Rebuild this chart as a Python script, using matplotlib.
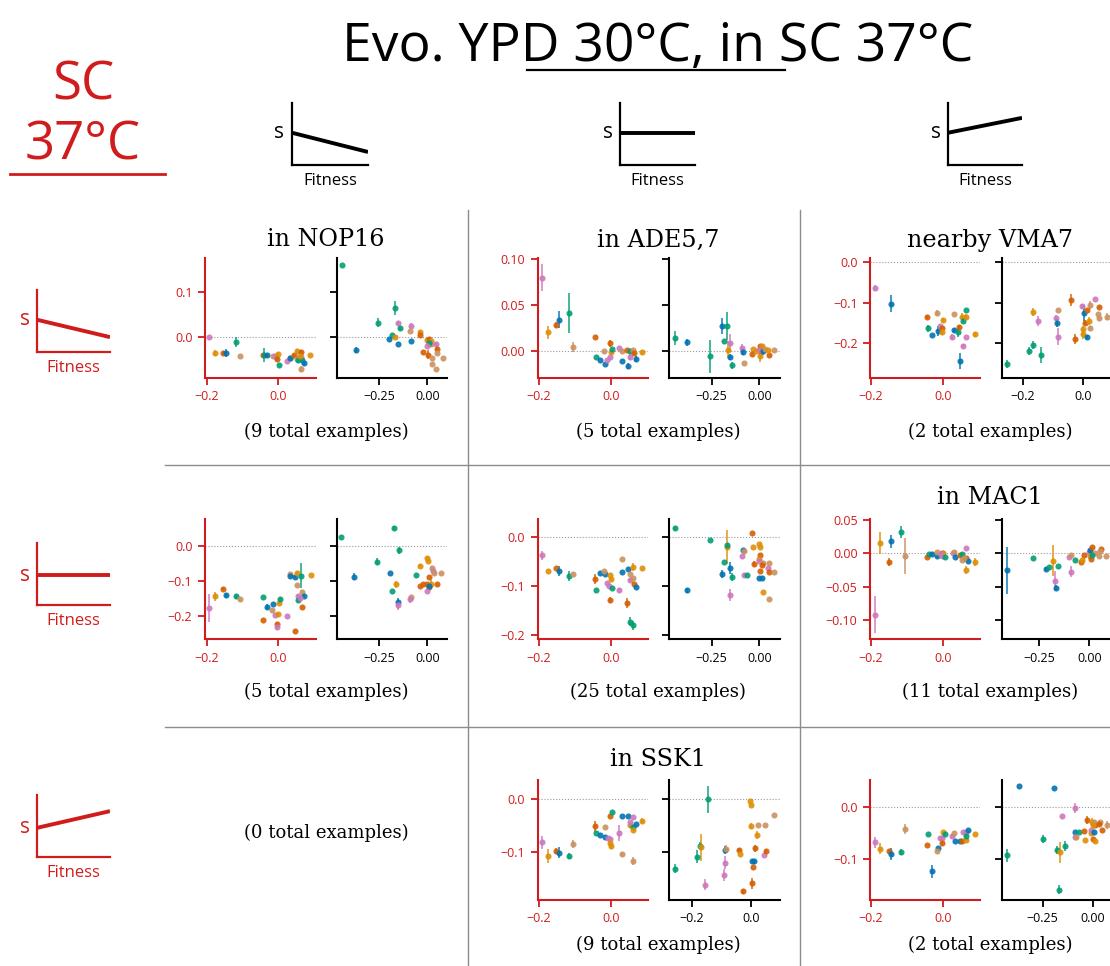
import matplotlib
matplotlib.use("Agg")
import matplotlib.pyplot as plt
from matplotlib.lines import Line2D

plt.rcParams['font.family'] = ['Open Sans', 'DejaVu Sans']

W, H = 1110, 966
RED = '#d01c1c'
palette = {'b': '#0173b2', 'o': '#de8f05', 'g': '#029e73',
           'r': '#d55e00', 'p': '#cc78bc', 't': '#ca9161'}

# ---- data: (x, y, err, group) per panel ----
c11_left = [
    (-0.193, 0.000, 0, 'p'), (-0.177, -0.035, 0.007, 'o'), (-0.154, -0.035, 0.004, 'r'), (-0.145, -0.036, 0.009, 'b'),
    (-0.119, -0.011, 0.011, 'g'), (-0.107, -0.042, 0, 't'), (-0.042, -0.039, 0.004, 'r'), (-0.040, -0.040, 0.016, 'g'),
    (-0.030, -0.041, 0.004, 'b'), (-0.014, -0.043, 0, 't'), (-0.008, -0.043, 0, 'p'), (-0.001, -0.038, 0.004, 'o'),
    (-0.003, -0.049, 0.004, 'r'), (0.003, -0.062, 0, 'g'), (0.025, -0.054, 0, 'p'), (0.033, -0.046, 0, 't'),
    (0.032, -0.046, 0, 'b'), (0.044, -0.041, 0.004, 'r'), (0.052, -0.031, 0.004, 'o'), (0.053, -0.048, 0, 't'),
    (0.065, -0.033, 0.004, 'r'), (0.063, -0.044, 0, 'p'), (0.055, -0.050, 0.007, 'g'), (0.065, -0.071, 0.006, 't'),
    (0.067, -0.052, 0.004, 'g'), (0.071, -0.058, 0.004, 'b'), (0.090, -0.041, 0, 'o'), (0.060, -0.042, 0, 'o'),
]
c11_right = [
    (-0.441, 0.159, 0, 'g'), (-0.372, -0.029, 0.006, 'b'), (-0.255, 0.031, 0.010, 'g'), (-0.169, 0.064, 0.015, 'g'),
    (-0.153, 0.031, 0.004, 'p'), (-0.143, 0.019, 0.004, 'g'), (-0.181, 0.005, 0, 'g'), (-0.197, -0.004, 0, 'b'),
    (-0.166, -0.001, 0, 'o'), (-0.152, -0.016, 0, 'b'), (-0.086, 0.025, 0.005, 'p'), (-0.091, 0.013, 0, 't'),
    (-0.084, -0.008, 0, 'b'), (-0.038, 0.010, 0.004, 'o'), (-0.040, 0.004, 0, 'r'), (-0.002, -0.006, 0, 'o'),
    (0.007, -0.004, 0.004, 'r'), (-0.024, -0.033, 0, 'r'), (0.002, -0.039, 0.010, 'r'), (0.021, -0.010, 0, 'o'),
    (0.019, -0.015, 0, 't'), (0.010, -0.013, 0.005, 'g'), (0.022, -0.047, 0, 't'), (0.022, -0.059, 0, 't'),
    (0.043, -0.016, 0.004, 'p'), (0.048, -0.026, 0.004, 'r'), (0.048, -0.035, 0, 't'), (0.045, -0.071, 0, 't'),
    (0.079, -0.046, 0, 't'), (-0.003, -0.021, 0, 'p'),
]
c12_left = [
    (-0.191, 0.080, 0.015, 'p'), (-0.175, 0.020, 0.007, 'o'), (-0.152, 0.028, 0.003, 'r'), (-0.144, 0.034, 0.009, 'b'),
    (-0.117, 0.041, 0.022, 'g'), (-0.105, 0.004, 0.005, 't'), (-0.045, 0.015, 0, 'r'), (-0.042, -0.007, 0, 'g'),
    (-0.030, -0.010, 0, 'b'), (-0.017, -0.015, 0, 'b'), (-0.020, 0.000, 0, 't'), (-0.004, 0.008, 0.004, 'r'),
    (-0.002, -0.002, 0.003, 'o'), (0.003, 0.002, 0, 'g'), (-0.011, -0.010, 0, 'p'), (-0.004, -0.007, 0, 'p'),
    (0.022, 0.003, 0, 'p'), (0.029, 0.000, 0, 't'), (0.029, -0.011, 0, 'b'), (0.045, -0.017, 0.003, 'b'),
    (0.043, 0.001, 0, 'r'), (0.051, -0.007, 0.003, 'p'), (0.052, 0.000, 0, 'g'), (0.061, 0.001, 0, 't'),
    (0.063, -0.003, 0.003, 'r'), (0.067, -0.009, 0.003, 'b'), (0.086, -0.002, 0.003, 'o'),
]
c12_right = [
    (-0.444, 0.014, 0.008, 'g'), (-0.378, 0.009, 0.004, 'b'), (-0.257, -0.006, 0.018, 'g'), (-0.198, 0.027, 0.009, 'b'),
    (-0.171, 0.027, 0.015, 'g'), (-0.184, 0.010, 0, 'g'), (-0.166, 0.001, 0.009, 'o'), (-0.152, 0.008, 0.010, 'p'),
    (-0.154, -0.007, 0.003, 'b'), (-0.142, -0.016, 0.004, 'g'), (-0.091, 0.003, 0.004, 'p'), (-0.087, -0.002, 0.003, 'b'),
    (-0.082, -0.014, 0, 't'), (-0.035, 0.002, 0, 'o'), (-0.038, -0.004, 0, 'r'), (-0.019, 0.000, 0, 'o'),
    (0.002, 0.005, 0, 'r'), (0.016, 0.005, 0, 'o'), (0.007, -0.001, 0, 'r'), (0.003, -0.006, 0.006, 'o'),
    (-0.003, 0.001, 0, 'p'), (0.017, 0.000, 0, 'b'), (0.031, 0.002, 0, 't'), (0.050, -0.005, 0, 'r'),
    (0.048, 0.001, 0, 'o'), (0.078, 0.001, 0, 't'),
]
c13_left = [
    (-0.190, -0.063, 0.007, 'p'), (-0.144, -0.102, 0.020, 'b'), (-0.045, -0.135, 0.004, 'r'), (-0.042, -0.163, 0.008, 'g'),
    (-0.032, -0.179, 0, 'b'), (-0.019, -0.125, 0.008, 't'), (-0.016, -0.169, 0.012, 'b'), (-0.009, -0.156, 0, 'p'),
    (-0.003, -0.161, 0.004, 'r'), (0.000, -0.142, 0.004, 'o'), (-0.003, -0.173, 0.006, 'o'), (0.030, -0.128, 0, 't'),
    (0.024, -0.183, 0.006, 'p'), (0.030, -0.168, 0.005, 'b'), (0.041, -0.173, 0.010, 'g'), (0.044, -0.160, 0.006, 'r'),
    (0.050, -0.134, 0.008, 'o'), (0.054, -0.144, 0.006, 'g'), (0.062, -0.117, 0, 'g'), (0.062, -0.135, 0.008, 'o'),
    (0.062, -0.184, 0, 'p'), (0.053, -0.206, 0.004, 'p'), (0.047, -0.244, 0.020, 'b'), (0.086, -0.178, 0.006, 'o'),
]
c13_right = [
    (-0.253, -0.251, 0.010, 'g'), (-0.180, -0.219, 0.010, 'g'), (-0.167, -0.204, 0.010, 'g'), (-0.140, -0.229, 0.020, 'g'),
    (-0.166, -0.123, 0.010, 'o'), (-0.150, -0.144, 0.012, 'p'), (-0.082, -0.117, 0, 't'), (-0.090, -0.138, 0.008, 'p'),
    (-0.084, -0.149, 0.010, 'b'), (-0.083, -0.183, 0.020, 'p'), (-0.038, -0.094, 0.015, 'r'), (-0.024, -0.189, 0.012, 'r'),
    (-0.003, -0.108, 0.004, 'p'), (0.004, -0.125, 0.020, 'b'), (0.000, -0.178, 0.010, 'o'), (0.002, -0.164, 0.006, 'o'),
    (0.009, -0.149, 0.006, 'r'), (0.014, -0.184, 0.004, 'b'), (0.016, -0.119, 0, 'r'), (0.022, -0.145, 0.010, 'o'),
    (0.026, -0.105, 0.010, 't'), (0.024, -0.162, 0.006, 't'), (0.042, -0.092, 0, 'p'), (0.053, -0.110, 0, 'r'),
    (0.051, -0.127, 0, 't'), (0.053, -0.138, 0.006, 't'), (0.080, -0.134, 0.008, 't'),
]
c21_left = [
    (-0.193, -0.177, 0.040, 'p'), (-0.177, -0.145, 0.012, 'o'), (-0.154, -0.123, 0.004, 'r'), (-0.145, -0.142, 0.008, 'b'),
    (-0.118, -0.145, 0.006, 'g'), (-0.107, -0.153, 0.004, 't'), (-0.042, -0.212, 0, 'r'), (-0.042, -0.147, 0, 'g'),
    (-0.030, -0.174, 0.008, 'b'), (-0.015, -0.167, 0, 'b'), (-0.016, -0.183, 0, 't'), (-0.008, -0.198, 0, 'p'),
    (-0.001, -0.196, 0.004, 'o'), (0.001, -0.164, 0.004, 'o'), (0.005, -0.153, 0.004, 'g'), (-0.003, -0.225, 0.004, 'r'),
    (-0.003, -0.232, 0.008, 'p'), (0.025, -0.202, 0, 'p'), (0.033, -0.081, 0.004, 't'), (0.032, -0.086, 0, 'b'),
    (0.047, -0.088, 0.004, 'b'), (0.053, -0.077, 0.004, 'o'), (0.052, -0.113, 0, 't'), (0.055, -0.144, 0.004, 'p'),
    (0.056, -0.156, 0.004, 'g'), (0.065, -0.085, 0.037, 'g'), (0.047, -0.245, 0, 'r'), (0.066, -0.131, 0.004, 't'),
    (0.066, -0.176, 0, 'r'), (0.071, -0.144, 0.004, 'b'), (0.062, -0.150, 0, 'p'), (0.091, -0.083, 0, 'o'),
]
c21_right = [
    (-0.448, 0.026, 0, 'g'), (-0.378, -0.089, 0.010, 'b'), (-0.259, -0.045, 0.010, 'g'), (-0.171, 0.051, 0.005, 'g'),
    (-0.145, -0.012, 0.010, 'g'), (-0.196, -0.078, 0, 'b'), (-0.182, -0.128, 0, 'g'), (-0.164, -0.110, 0.010, 'o'),
    (-0.150, -0.161, 0.012, 'b'), (-0.152, -0.169, 0.015, 'p'), (-0.087, -0.147, 0, 't'), (-0.089, -0.153, 0.010, 'p'),
    (-0.037, -0.057, 0.005, 'o'), (-0.059, -0.083, 0, 'g'), (0.000, -0.035, 0.004, 'o'), (0.002, -0.042, 0.004, 'o'),
    (0.007, -0.089, 0, 'r'), (0.023, -0.064, 0.005, 't'), (-0.038, -0.115, 0, 'r'), (-0.024, -0.109, 0, 'r'),
    (0.010, -0.119, 0, 'r'), (-0.003, -0.109, 0, 'r'), (0.016, -0.109, 0.010, 'o'), (-0.002, -0.128, 0, 'p'),
    (0.007, -0.115, 0, 'b'), (0.029, -0.072, 0, 'p'), (0.035, -0.078, 0, 't'), (0.070, -0.078, 0, 't'),
    (0.051, -0.109, 0, 'r'),
]
c22_left = [
    (-0.191, -0.038, 0.010, 'p'), (-0.175, -0.070, 0, 'o'), (-0.152, -0.064, 0, 'r'), (-0.144, -0.070, 0.010, 'b'),
    (-0.117, -0.080, 0.010, 'g'), (-0.105, -0.076, 0, 't'), (-0.045, -0.086, 0.010, 'r'), (-0.042, -0.109, 0, 'g'),
    (-0.030, -0.074, 0, 'b'), (-0.017, -0.076, 0, 'b'), (-0.020, -0.070, 0, 't'), (-0.011, -0.093, 0, 'p'),
    (-0.006, -0.099, 0, 'p'), (-0.004, -0.077, 0, 'o'), (-0.001, -0.086, 0.004, 'o'), (0.003, -0.105, 0, 'g'),
    (-0.004, -0.128, 0.006, 'r'), (0.022, -0.108, 0.004, 'p'), (0.029, -0.046, 0, 't'), (0.029, -0.072, 0, 'b'),
    (0.043, -0.135, 0.010, 'r'), (0.045, -0.066, 0, 'b'), (0.051, -0.075, 0, 't'), (0.051, -0.088, 0.004, 'p'),
    (0.052, -0.172, 0.010, 'g'), (0.061, -0.180, 0.010, 'g'), (0.061, -0.061, 0.008, 'o'), (0.063, -0.096, 0, 'r'),
    (0.061, -0.084, 0, 't'), (0.067, -0.101, 0, 'b'), (0.086, -0.063, 0, 'o'),
]
c22_right = [
    (-0.444, 0.017, 0.004, 'g'), (-0.378, -0.109, 0.006, 'b'), (-0.257, -0.007, 0, 'g'), (-0.168, -0.021, 0.035, 'o'),
    (-0.170, -0.016, 0, 'g'), (-0.184, -0.051, 0, 'g'), (-0.198, -0.076, 0.008, 'b'), (-0.154, -0.064, 0.012, 'b'),
    (-0.142, -0.081, 0.008, 'g'), (-0.154, -0.119, 0.012, 'p'), (-0.091, -0.040, 0, 'p'), (-0.087, -0.026, 0, 'b'),
    (-0.082, -0.028, 0, 't'), (-0.082, -0.077, 0.004, 'p'), (-0.063, -0.078, 0, 'g'), (-0.038, 0.007, 0, 'r'),
    (-0.035, -0.020, 0, 'o'), (-0.026, -0.055, 0.005, 'r'), (-0.003, -0.014, 0, 'o'), (0.002, -0.021, 0, 'o'),
    (0.005, -0.038, 0, 'r'), (-0.003, -0.045, 0, 'o'), (-0.002, -0.049, 0, 'p'), (0.003, -0.070, 0, 'r'),
    (0.000, -0.084, 0, 'b'), (0.014, -0.084, 0, 'b'), (0.017, -0.053, 0, 't'), (0.014, -0.058, 0, 'r'),
    (0.021, -0.112, 0, 'o'), (0.049, -0.053, 0, 't'), (0.044, -0.064, 0, 'p'), (0.051, -0.071, 0, 'r'),
    (0.051, -0.126, 0, 't'), (0.077, -0.072, 0, 't'),
]
c23_left = [
    (-0.190, -0.0915, 0.028, 'p'), (-0.174, 0.0155, 0.016, 'o'), (-0.151, -0.013, 0.006, 'r'), (-0.144, 0.018, 0.010, 'b'),
    (-0.117, 0.0325, 0.009, 'g'), (-0.105, -0.0045, 0.027, 't'), (-0.045, -0.0055, 0, 'r'), (-0.041, -0.0015, 0, 'g'),
    (-0.031, -0.0005, 0, 'b'), (-0.017, -0.0045, 0.003, 'b'), (-0.019, 0.002, 0, 't'), (-0.003, 0.001, 0, 'r'),
    (-0.001, 0.001, 0, 'o'), (-0.007, -0.0015, 0, 'p'), (-0.004, -0.004, 0, 'p'), (0.003, -0.0055, 0, 'g'),
    (0.025, 0.0005, 0, 'p'), (0.030, 0.0015, 0, 't'), (0.031, -0.0055, 0, 'b'), (0.046, -0.0025, 0, 'r'),
    (0.052, -0.0005, 0, 'g'), (0.062, 0.0075, 0, 'p'), (0.052, -0.010, 0, 't'), (0.063, -0.0075, 0, 'r'),
    (0.062, -0.025, 0.006, 'o'), (0.068, -0.011, 0, 'b'), (0.086, -0.0125, 0.006, 'o'), (0.056, -0.0065, 0, 't'),
]
c23_right = [
    (-0.413, -0.025, 0.035, 'b'), (-0.280, -0.0065, 0, 'g'), (-0.215, -0.023, 0.003, 'b'), (-0.200, -0.020, 0, 'g'),
    (-0.180, -0.011, 0.023, 'o'), (-0.155, -0.0195, 0, 'g'), (-0.170, -0.0415, 0.015, 'p'), (-0.167, -0.051, 0.004, 'b'),
    (-0.093, -0.0275, 0.008, 'p'), (-0.100, -0.0055, 0, 'p'), (-0.092, -0.003, 0, 't'), (-0.070, -0.0095, 0, 'g'),
    (-0.043, -0.013, 0, 'r'), (-0.038, -0.010, 0, 'o'), (-0.028, -0.0025, 0, 'r'), (-0.003, 0.002, 0, 'p'),
    (0.003, 0.005, 0, 'b'), (0.015, 0.0095, 0, 'r'), (0.028, 0.001, 0, 't'), (0.003, -0.004, 0, 'o'),
    (0.007, -0.008, 0, 'r'), (0.050, -0.004, 0, 't'), (0.057, 0.007, 0, 'r'), (0.053, 0.0035, 0, 't'),
    (0.083, -0.0035, 0, 't'), (0.012, -0.002, 0, 'g'),
]
c32_left = [
    (-0.191, -0.082, 0.012, 'p'), (-0.175, -0.107, 0.013, 'o'), (-0.152, -0.098, 0.006, 'r'), (-0.144, -0.101, 0.010, 'b'),
    (-0.117, -0.108, 0.006, 'g'), (-0.105, -0.085, 0.007, 't'), (-0.045, -0.052, 0.010, 'r'), (-0.042, -0.064, 0, 'g'),
    (-0.018, -0.054, 0, 't'), (-0.030, -0.069, 0, 'b'), (-0.017, -0.071, 0, 'b'), (-0.009, -0.074, 0, 'p'),
    (-0.004, -0.076, 0, 'p'), (-0.003, -0.083, 0.004, 'o'), (-0.001, -0.089, 0.005, 'o'), (-0.004, -0.032, 0, 'r'),
    (0.003, -0.025, 0, 'g'), (0.022, -0.065, 0.015, 'p'), (0.029, -0.104, 0.004, 't'), (0.029, -0.033, 0, 'b'),
    (0.045, -0.033, 0, 'b'), (0.051, -0.049, 0.004, 'o'), (0.051, -0.044, 0, 'p'), (0.061, -0.034, 0, 'p'),
    (0.060, -0.054, 0.004, 'g'), (0.061, -0.059, 0, 'o'), (0.067, -0.047, 0, 'b'), (0.061, -0.117, 0.007, 't'),
    (0.086, -0.041, 0.004, 'o'),
]
c32_right = [
    (-0.257, -0.131, 0.008, 'g'), (-0.183, -0.109, 0.012, 'g'), (-0.172, -0.089, 0.008, 'g'), (-0.170, -0.091, 0.025, 'o'),
    (-0.145, -0.001, 0.025, 'g'), (-0.155, -0.161, 0.010, 'p'), (-0.091, -0.143, 0.012, 'p'), (-0.087, -0.120, 0.012, 'p'),
    (-0.088, -0.096, 0.008, 'b'), (-0.084, -0.094, 0.008, 't'), (-0.042, -0.096, 0.004, 'r'), (-0.037, -0.104, 0, 'o'),
    (-0.026, -0.174, 0.004, 'r'), (-0.003, -0.004, 0, 'o'), (0.000, -0.012, 0, 'o'), (0.000, -0.051, 0.006, 'o'),
    (0.004, -0.159, 0.010, 'r'), (0.008, -0.129, 0, 'r'), (0.003, -0.116, 0, 'b'), (0.011, -0.117, 0, 'b'),
    (0.013, -0.093, 0.007, 'r'), (0.021, -0.068, 0.008, 'o'), (0.024, -0.049, 0, 't'), (0.048, -0.049, 0, 't'),
    (0.043, -0.106, 0, 'p'), (0.051, -0.099, 0.004, 'r'), (0.078, -0.031, 0, 't'),
]
c33_left = [
    (-0.190, -0.069, 0.011, 'p'), (-0.174, -0.081, 0.010, 'o'), (-0.151, -0.085, 0.004, 'r'), (-0.144, -0.091, 0.012, 'b'),
    (-0.116, -0.087, 0.006, 'g'), (-0.105, -0.043, 0.010, 't'), (-0.045, -0.074, 0, 'r'), (-0.042, -0.052, 0, 'g'),
    (-0.032, -0.125, 0.013, 'b'), (-0.016, -0.080, 0, 'b'), (-0.019, -0.085, 0, 't'), (-0.009, -0.061, 0, 'p'),
    (-0.004, -0.061, 0, 'p'), (-0.003, -0.070, 0.004, 'r'), (0.000, -0.049, 0, 'o'), (0.004, -0.052, 0, 'g'),
    (0.024, -0.057, 0.004, 'p'), (0.030, -0.050, 0, 't'), (0.031, -0.066, 0, 'b'), (0.046, -0.066, 0, 'b'),
    (0.050, -0.066, 0, 'r'), (0.062, -0.064, 0.004, 'o'), (0.053, -0.048, 0, 'p'), (0.061, -0.048, 0, 'p'),
    (0.061, -0.056, 0.004, 'g'), (0.067, -0.044, 0, 'b'), (0.086, -0.052, 0, 'o'),
]
c33_right = [
    (-0.430, -0.094, 0.013, 'g'), (-0.367, 0.040, 0, 'b'), (-0.193, 0.037, 0, 'b'), (-0.087, -0.003, 0.010, 'p'),
    (-0.152, -0.018, 0, 'p'), (-0.250, -0.063, 0.008, 'g'), (-0.180, -0.083, 0.008, 'g'), (-0.165, -0.088, 0.020, 'o'),
    (-0.140, -0.076, 0.010, 'g'), (-0.167, -0.160, 0.008, 'g'), (-0.087, -0.049, 0, 'b'), (-0.067, -0.049, 0, 'g'),
    (-0.088, -0.058, 0, 'p'), (-0.083, -0.059, 0, 't'), (-0.043, -0.046, 0, 'r'), (-0.038, -0.065, 0, 'o'),
    (-0.030, -0.025, 0.008, 'r'), (-0.003, -0.029, 0.008, 'o'), (0.012, -0.036, 0, 'r'), (0.008, -0.029, 0, 't'),
    (-0.008, -0.050, 0, 'o'), (-0.008, -0.045, 0, 'p'), (0.007, -0.048, 0, 'b'), (0.000, -0.035, 0, 'o'),
    (0.003, -0.062, 0, 'r'), (0.013, -0.066, 0, 'o'), (0.045, -0.044, 0, 'r'), (0.037, -0.030, 0, 't'),
    (0.070, -0.035, 0.008, 't'), (0.032, -0.034, 0, 'r'),
]

cell_titles = {(1, 1): 'in NOP16', (1, 2): 'in ADE5,7', (1, 3): 'nearby VMA7',
               (2, 3): 'in MAC1', (3, 2): 'in SSK1'}
cell_counts = {(1, 1): 9, (1, 2): 5, (1, 3): 2, (2, 1): 5, (2, 2): 25, (2, 3): 11,
               (3, 1): 0, (3, 2): 9, (3, 3): 2}

# (row, col): left, right, ylim, yticks, right xlim, right xticks
cells = {
    (1, 1): (c11_left, c11_right, (-0.091, 0.175), [0.0, 0.1], (-0.47, 0.103), [-0.25, 0.0]),
    (1, 2): (c12_left, c12_right, (-0.030, 0.1015), [0.0, 0.05, 0.10], (-0.473, 0.109), [-0.25, 0.0]),
    (1, 3): (c13_left, c13_right, (-0.285, 0.01), [-0.2, -0.1, 0.0], (-0.27, 0.098), [-0.2, 0.0]),
    (2, 1): (c21_left, c21_right, (-0.267, 0.077), [-0.2, -0.1, 0.0], (-0.47, 0.103), [-0.25, 0.0]),
    (2, 2): (c22_left, c22_right, (-0.2075, 0.036), [-0.2, -0.1, 0.0], (-0.473, 0.109), [-0.25, 0.0]),
    (2, 3): (c23_left, c23_right, (-0.128, 0.0515), [-0.10, -0.05, 0.00, 0.05], (-0.438, 0.114), [-0.25, 0.0]),
    (3, 2): (c32_left, c32_right, (-0.19, 0.035), [-0.1, 0.0], (-0.2755, 0.098), [-0.2, 0.0]),
    (3, 3): (c33_left, c33_right, (-0.18, 0.0515), [-0.1, 0.0], (-0.455, 0.0965), [-0.25, 0.0]),
}
left_xlim = {1: (-0.205, 0.106), 2: (-0.2036, 0.1007), 3: (-0.203, 0.101)}

# ---- layout in pixels ----
col_px = {1: ((205, 316), (336.7, 447.3)), 2: ((537.7, 647.7), (669.3, 780)), 3: ((870, 980), (1001.7, 1112))}
row_px = {1: (258, 378), 2: (519, 639), 3: (780, 900)}
col_center = {1: 326, 2: 658, 3: 990}
title_y = {1: 240, 2: 498, 3: 760}
count_y = {1: 432, 2: 692, 3: 945}


def box(x0, y0, x1, y1):
    return [x0 / W, 1 - y1 / H, (x1 - x0) / W, (y1 - y0) / H]


def fx(x):
    return x / W


def fy(y):
    return 1 - y / H


fig = plt.figure(figsize=(W / 100, H / 100), dpi=100)


def draw_panel(ax, pts, xlim, ylim, xticks, yticks, color, ylabels):
    for x, y, e, g in pts:
        c = palette[g]
        if e:
            ax.errorbar(x, y, yerr=e, fmt='none', ecolor=c, elinewidth=1.3, alpha=0.8, zorder=2)
        ax.plot(x, y, 'o', ms=4.4, color=c, mec='none', alpha=0.9, zorder=3)
    ax.axhline(0, color='#9a9a9a', ls=':', lw=0.8, zorder=1)
    ax.set_xlim(*xlim)
    ax.set_ylim(*ylim)
    ax.set_xticks(xticks)
    ax.set_yticks(yticks)
    for s in ['top', 'right']:
        ax.spines[s].set_visible(False)
    for s in ['left', 'bottom']:
        ax.spines[s].set_color(color)
        ax.spines[s].set_linewidth(1.5)
    ax.tick_params(colors=color, labelsize=9, length=5, width=1.3, pad=4, labelleft=ylabels)
    ax.patch.set_alpha(0)


for (r, c), (lpts, rpts, ylim, yticks, rxlim, rxticks) in cells.items():
    (lx0, lx1), (rx0, rx1) = col_px[c]
    y0, y1 = row_px[r]
    axl = fig.add_axes(box(lx0, y0, lx1, y1))
    draw_panel(axl, lpts, left_xlim[c], ylim, [-0.2, 0.0], yticks, RED, True)
    axr = fig.add_axes(box(rx0, y0, rx1, y1))
    draw_panel(axr, rpts, rxlim, ylim, rxticks, yticks, 'black', False)

for (r, c), t in cell_titles.items():
    fig.text(fx(col_center[c]), fy(title_y[r]), t, ha='center', va='center',
             fontsize=17.2, family='DejaVu Serif')
for (r, c), n in cell_counts.items():
    yy = 833 if n == 0 else count_y[r]
    fig.text(fx(col_center[c]), fy(yy), f'({n} total examples)', ha='center', va='center',
             fontsize=13, family='DejaVu Serif')

# grid separators
for yy in (465, 727):
    fig.add_artist(Line2D([fx(165), fx(1110)], [fy(yy), fy(yy)], color='#8c8c8c', lw=1))
for xx in (468, 800):
    fig.add_artist(Line2D([fx(xx), fx(xx)], [fy(210), fy(966)], color='#8c8c8c', lw=1))


def schematic(x0, y0, x1, y1, start, end, color):
    ax = fig.add_axes(box(x0, y0, x1, y1))
    ax.plot([0, 1], [start, end], color=color, lw=2.8, solid_capstyle='butt')
    ax.set_xlim(0, 1)
    ax.set_ylim(0, 1)
    ax.set_xticks([])
    ax.set_yticks([])
    for s in ['top', 'right']:
        ax.spines[s].set_visible(False)
    for s in ['left', 'bottom']:
        ax.spines[s].set_color(color)
        ax.spines[s].set_linewidth(1.6)
    ax.patch.set_alpha(0)
    ax.text(-0.1, start, 's', transform=ax.transAxes, ha='right', va='center', fontsize=15, color=color)
    ax.text(0.5, -0.13, 'Fitness', transform=ax.transAxes, ha='center', va='top', fontsize=12, color=color)


# top schematics (black)
schematic(292, 103, 368, 165, 0.52, 0.21, 'black')
schematic(620, 103, 695, 165, 0.52, 0.52, 'black')
schematic(948, 103, 1022, 165, 0.52, 0.76, 'black')
# left schematics (red)
schematic(37, 290, 110, 352, 0.52, 0.24, RED)
schematic(37, 543, 110, 605, 0.48, 0.48, RED)
schematic(37, 795, 110, 857, 0.47, 0.74, RED)

# headers
fig.text(fx(658), fy(61), 'Evo. YPD 30°C, in SC 37°C', ha='center', va='baseline', fontsize=38.5)
fig.add_artist(Line2D([fx(527), fx(785)], [fy(70), fy(70)], color='black', lw=1.6))
fig.text(fx(83), fy(99), 'SC', ha='center', va='baseline', fontsize=38, color=RED)
fig.text(fx(83), fy(160), '37°C', ha='center', va='baseline', fontsize=38, color=RED)
fig.add_artist(Line2D([fx(10), fx(165)], [fy(174), fy(174)], color=RED, lw=2))

fig.savefig('out.png', dpi=100, facecolor='white')
